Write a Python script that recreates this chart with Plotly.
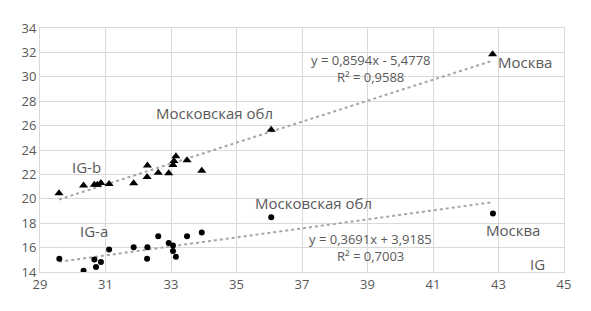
import plotly.graph_objects as go

# IG-b series (triangles)
igb_x = [29.58, 30.33, 30.66, 30.75, 30.86, 31.11, 31.86, 32.28, 32.27, 32.61, 32.93, 33.06, 33.09, 33.15, 33.49, 33.94, 36.06, 42.82]
igb_y = [20.46, 21.09, 21.15, 21.15, 21.30, 21.22, 21.27, 22.73, 21.78, 22.14, 22.09, 22.77, 23.09, 23.49, 23.17, 22.30, 25.65, 31.85]

# IG-a series (circles)
iga_x = [29.59, 30.33, 30.66, 30.71, 30.86, 31.11, 31.86, 32.27, 32.28, 32.61, 32.93, 33.06, 33.06, 33.15, 33.49, 33.94, 36.06, 42.83]
iga_y = [15.08, 14.11, 15.03, 14.40, 14.82, 15.85, 16.03, 15.08, 16.03, 16.93, 16.37, 16.17, 15.72, 15.24, 16.93, 17.24, 18.48, 18.80]

# Trendline coefficients (as printed)
b_slope, b_icpt = 0.8594, -5.4778
a_slope, a_icpt = 0.3691, 3.9185

x_ticks = [29, 31, 33, 35, 37, 39, 41, 43, 45]
y_ticks = [14, 16, 18, 20, 22, 24, 26, 28, 30, 32, 34]

FONT = "Open Sans"
TXT = "#595959"
GRID = "#d9d9d9"
TREND = "#a6a6a6"

fig = go.Figure()

def trend(xs, m, c):
    lo, hi = min(xs), max(xs)
    return [lo, hi], [m * lo + c, m * hi + c]

tx, ty = trend(igb_x, b_slope, b_icpt)
fig.add_trace(go.Scatter(x=tx, y=ty, mode="lines",
                         line=dict(color=TREND, width=2, dash="dot"), hoverinfo="skip"))
tx, ty = trend(iga_x, a_slope, a_icpt)
fig.add_trace(go.Scatter(x=tx, y=ty, mode="lines",
                         line=dict(color=TREND, width=2, dash="dot"), hoverinfo="skip"))

fig.add_trace(go.Scatter(x=igb_x, y=igb_y, mode="markers",
                         marker=dict(symbol="triangle-up", size=8, color="black")))
fig.add_trace(go.Scatter(x=iga_x, y=iga_y, mode="markers",
                         marker=dict(symbol="circle", size=6, color="black")))

# page pixel coords of plot area: x 40..564, y 18.7..271.7
W0, W1, H0, H1 = 40, 564, 18.7, 271.7
def px(xp): return (xp - W0) / (W1 - W0)
def py(yp): return (H1 - yp) / (H1 - H0)

def ann(x, y, text, size=15):
    fig.add_annotation(x=px(x), y=py(y), xref="paper", yref="paper", text=text, showarrow=False,
                       xanchor="center", yanchor="middle", align="center",
                       font=dict(family=FONT, size=size, color=TXT))

ann(371, 52, "y = 0,8594x - 5,4778", 13)
ann(370, 70, "R² = 0,9588", 13)
ann(370, 237, "y = 0,3691x + 3,9185", 13)
ann(370, 255, "R² = 0,7003", 13)

ann(525, 54, "Москва")
ann(214, 107, "Московская обл")
ann(86, 163, "IG-b")
ann(94, 229, "IG-a")
ann(313, 200, "Московская обл")
ann(513, 228, "Москва")
ann(537, 263, "IG")

# page has an 8px body margin, so the figure starts at (8, 8)
fig.update_layout(
    width=583, height=303,
    margin=dict(l=W0 - 8, r=583 - (W1 - 8), t=H0 - 8, b=303 - (H1 - 8)),
    paper_bgcolor="white", plot_bgcolor="white",
    showlegend=False,
    font=dict(family=FONT, size=13, color=TXT),
    xaxis=dict(range=[29, 45], tickvals=x_ticks, ticktext=[str(v) for v in x_ticks],
               showgrid=True, gridcolor=GRID, gridwidth=1, zeroline=False,
               showline=True, linecolor=GRID, linewidth=1, mirror=True,
               ticks="", tickfont=dict(family=FONT, size=13, color=TXT)),
    yaxis=dict(range=[14, 34], tickvals=y_ticks, ticktext=[str(v) for v in y_ticks],
               showgrid=True, gridcolor=GRID, gridwidth=1, zeroline=False,
               showline=True, linecolor=GRID, linewidth=1, mirror=True,
               ticks="", tickfont=dict(family=FONT, size=13, color=TXT)),
)

fig.write_html("out.html")
